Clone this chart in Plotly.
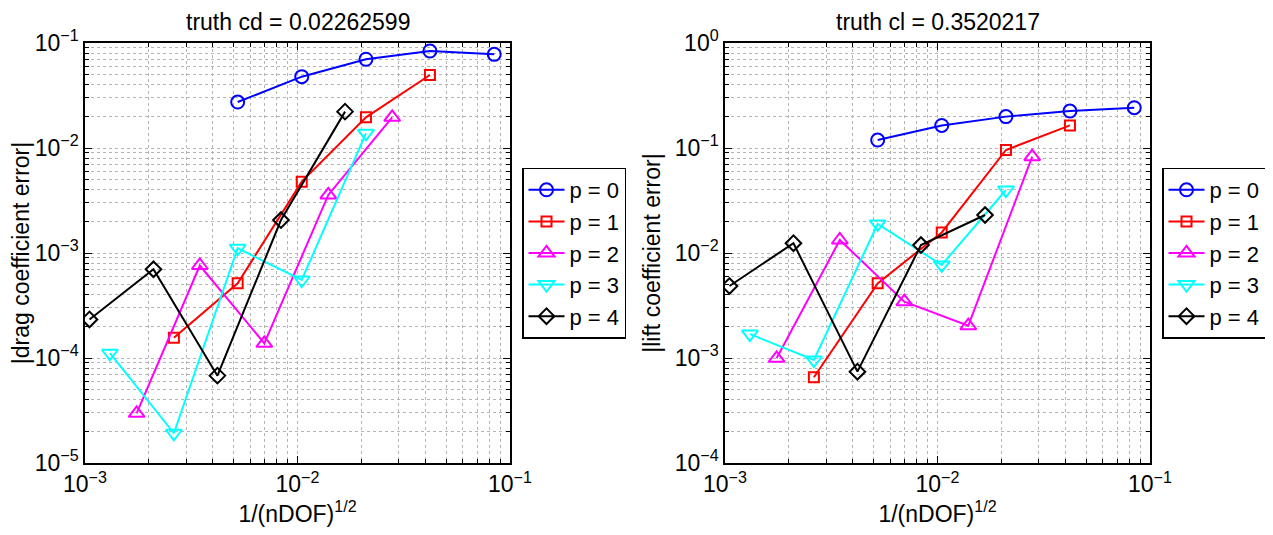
import plotly.graph_objects as go

# ---------------- data ----------------
labels = ["p = 0", "p = 1", "p = 2", "p = 3", "p = 4"]

x_p0 = [0.00523, 0.01047, 0.0210, 0.0420, 0.0843]
x_p1 = [0.00262, 0.00523, 0.01047, 0.0210, 0.0420]
x_p2 = [0.00175, 0.00347, 0.00698, 0.01396, 0.0279]
x_p3 = [0.00131, 0.00262, 0.00523, 0.01047, 0.0210]
x_p4 = [0.00105, 0.0021, 0.0042, 0.00836, 0.01674]

cd_p0 = [0.0274, 0.0478, 0.0700, 0.0839, 0.0780]
cd_p1 = [1.56e-4, 5.14e-4, 4.78e-3, 0.0196, 0.0496]
cd_p2 = [2.97e-5, 7.6e-4, 1.38e-4, 3.57e-3, 0.0196]
cd_p3 = [1.11e-4, 1.92e-5, 1.11e-3, 5.53e-4, 0.0138]
cd_p4 = [2.33e-4, 7.0e-4, 6.79e-5, 2.06e-3, 0.0222]

cl_p0 = [0.119, 0.164, 0.199, 0.225, 0.242]
cl_p1 = [6.55e-4, 5.14e-3, 0.0157, 0.0957, 0.164]
cl_p2 = [9.93e-4, 0.0133, 3.44e-3, 2.03e-3, 0.0826]
cl_p3 = [1.69e-3, 9.57e-4, 0.0189, 7.69e-3, 0.0398]
cl_p4 = [4.85e-3, 0.0124, 7.41e-4, 0.0119, 0.0230]

x_tickvals = [1e-3, 1e-2, 1e-1]
x_ticktext = ["10<sup>\u22123</sup>", "10<sup>\u22122</sup>", "10<sup>\u22121</sup>"]
cd_tickvals = [1e-5, 1e-4, 1e-3, 1e-2, 1e-1]
cd_ticktext = ["10<sup>\u22125</sup>", "10<sup>\u22124</sup>", "10<sup>\u22123</sup>",
               "10<sup>\u22122</sup>", "10<sup>\u22121</sup>"]
cl_tickvals = [1e-4, 1e-3, 1e-2, 1e-1, 1e0]
cl_ticktext = ["10<sup>\u22124</sup>", "10<sup>\u22123</sup>", "10<sup>\u22122</sup>",
               "10<sup>\u22121</sup>", "10<sup>0</sup>"]

title_cd = "truth cd = 0.02262599"
title_cl = "truth cl = 0.3520217"
xlabel = "1/(nDOF)<sup>1/2</sup>"
ylabel_cd = "|drag coefficient error|"
ylabel_cl = "|lift coefficient error|"

# ---------------- styles ----------------
colors = ["#0000ff", "#ff0000", "#ff00ff", "#00ffff", "#000000"]
symbols = ["circle-open", "square-open", "triangle-up-open", "triangle-down-open", "diamond-open"]
msizes = [13, 10, 14, 14, 12]
FONT = "Liberation Sans, Arial, Helvetica, sans-serif"
FS = 23

xs = [x_p0, x_p1, x_p2, x_p3, x_p4]
cds = [cd_p0, cd_p1, cd_p2, cd_p3, cd_p4]
cls = [cl_p0, cl_p1, cl_p2, cl_p3, cl_p4]

fig = go.Figure()
for i in range(5):
    mk = dict(symbol=symbols[i], size=msizes[i], color=colors[i],
              line=dict(color=colors[i], width=2))
    fig.add_trace(go.Scatter(x=xs[i], y=cds[i], mode="lines+markers", name=labels[i],
                             line=dict(color=colors[i], width=2), marker=mk,
                             xaxis="x", yaxis="y", legend="legend"))
for i in range(5):
    mk = dict(symbol=symbols[i], size=msizes[i], color=colors[i],
              line=dict(color=colors[i], width=2))
    fig.add_trace(go.Scatter(x=xs[i], y=cls[i], mode="lines+markers", name=labels[i],
                             line=dict(color=colors[i], width=2), marker=mk,
                             xaxis="x2", yaxis="y2", legend="legend2"))

# The page has an 8px body margin, so the figure is sized to fit inside it
OFF = 8
W, H = 1264, 519
def fx(px):
    return (px - OFF) / W
def fy(py):
    return (H - (py - OFF)) / H

minor_vals = [m * 10.0 ** e for e in range(-6, 1) for m in range(2, 10)]

def axis_common(tickvals, ticktext, rng, domain, anchor, title, standoff):
    return dict(
        type="log", range=rng, domain=domain, anchor=anchor, automargin=False,
        tickmode="array", tickvals=tickvals, ticktext=ticktext,
        ticks="inside", ticklen=7, tickcolor="black", tickwidth=1,
        showline=True, linecolor="black", linewidth=1.5, mirror="allticks",
        showgrid=True, gridcolor="#b4b4b4", griddash="dot", gridwidth=1,
        zeroline=False,
        minor=dict(tickmode="array", tickvals=minor_vals, ticks="inside", ticklen=4,
                   tickcolor="black", showgrid=True, gridcolor="#b4b4b4",
                   griddash="dot", gridwidth=1),
        tickfont=dict(family=FONT, size=FS, color="black"),
        title=dict(text=title, font=dict(family=FONT, size=FS, color="black"), standoff=standoff),
    )

xdom1 = [fx(85), fx(510)]
xdom2 = [fx(725), fx(1150)]
ydom = [fy(463), fy(43)]

legend_common = dict(
    yanchor="middle", xanchor="left", y=fy(253),
    bgcolor="white", bordercolor="black", borderwidth=1.5,
    font=dict(family=FONT, size=22, color="black"),
    tracegroupgap=0, itemwidth=36, itemclick=False, itemdoubleclick=False,
)

fig.update_layout(
    template="none",
    width=W, height=H,
    margin=dict(l=0, r=0, t=0, b=0, autoexpand=False),
    paper_bgcolor="white", plot_bgcolor="white",
    font=dict(family=FONT, size=FS, color="black"),
    showlegend=True,
    xaxis=axis_common(x_tickvals, x_ticktext, [-3, -1], xdom1, "y", xlabel, 13),
    yaxis=axis_common(cd_tickvals, cd_ticktext, [-5, -1], ydom, "x", ylabel_cd, 8),
    xaxis2=axis_common(x_tickvals, x_ticktext, [-3, -1], xdom2, "y2", xlabel, 13),
    yaxis2=axis_common(cl_tickvals, cl_ticktext, [-4, 0], ydom, "x2", ylabel_cl, 8),
    legend=dict(x=fx(522), **legend_common),
    legend2=dict(x=fx(1162), **legend_common),
    annotations=[
        dict(text=title_cd, x=(xdom1[0] + xdom1[1]) / 2, y=1.0, xref="paper", yref="paper",
             showarrow=False, xanchor="center", yanchor="top", borderpad=0,
             font=dict(family=FONT, size=FS, color="black")),
        dict(text=title_cl, x=(xdom2[0] + xdom2[1]) / 2, y=1.0, xref="paper", yref="paper",
             showarrow=False, xanchor="center", yanchor="top", borderpad=0,
             font=dict(family=FONT, size=FS, color="black")),
    ],
)

fig.write_html("out.html")
